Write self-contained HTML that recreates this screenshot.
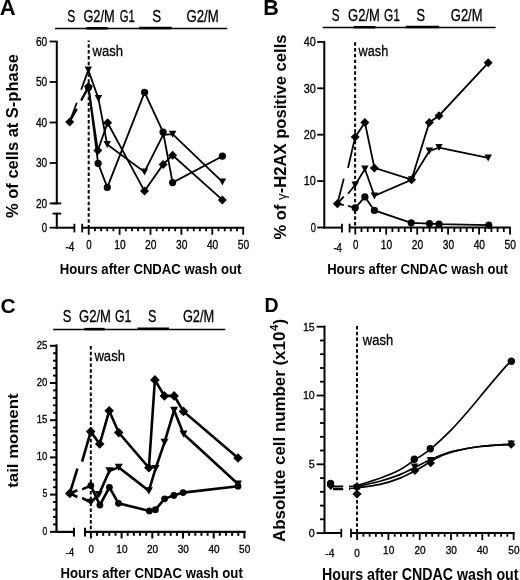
<!DOCTYPE html>
<html><head><meta charset="utf-8"><style>
html,body{margin:0;padding:0;background:#fff;}
svg{display:block;font-family:"Liberation Sans",sans-serif;will-change:transform;}
text[font-weight="normal"]{stroke:#000;stroke-width:0.3px;}
</style></head><body>
<svg width="520" height="580" viewBox="0 0 520 580">
<defs>
<clipPath id="clipA"><path d="M0,0H77V300H0Z M81,0H260V300H81Z"/></clipPath>
<clipPath id="clipB"><path d="M260,0H343.8V300H260Z M348,0H520V300H348Z"/></clipPath>
<clipPath id="clipC"><path d="M0,290H77.3V580H0Z M81.8,290H260V580H81.8Z"/></clipPath>
<clipPath id="clipD"><path d="M260,290H343.2V580H260Z M349,290H520V580H349Z"/></clipPath>
</defs>
<rect width="520" height="580" fill="#fff"/>
<text x="-0.2" y="14.6" font-size="22" font-weight="bold" text-anchor="start" >A</text>
<line x1="55.0" y1="28.6" x2="227.2" y2="28.6" stroke="#000" stroke-width="1.5" />
<line x1="86.5" y1="28.3" x2="107.7" y2="28.3" stroke="#000" stroke-width="2.5" />
<line x1="139.1" y1="28.0" x2="171.8" y2="28.0" stroke="#000" stroke-width="2.5" />
<text x="67.3" y="21.8" font-size="16" font-weight="normal" text-anchor="start" textLength="8" lengthAdjust="spacingAndGlyphs" >S</text>
<text x="83.4" y="21.8" font-size="16" font-weight="normal" text-anchor="start" textLength="31.3" lengthAdjust="spacingAndGlyphs" >G2/M</text>
<text x="119.8" y="21.8" font-size="16" font-weight="normal" text-anchor="start" textLength="15.1" lengthAdjust="spacingAndGlyphs" >G1</text>
<text x="152.3" y="21.8" font-size="16" font-weight="normal" text-anchor="start" textLength="8.9" lengthAdjust="spacingAndGlyphs" >S</text>
<text x="186.5" y="21.8" font-size="16" font-weight="normal" text-anchor="start" textLength="32.2" lengthAdjust="spacingAndGlyphs" >G2/M</text>
<line x1="56.8" y1="41.0" x2="56.8" y2="204.3" stroke="#000" stroke-width="2" />
<line x1="56.8" y1="212.8" x2="56.8" y2="228.6" stroke="#000" stroke-width="2" />
<line x1="52.5" y1="213.6" x2="61.3" y2="213.6" stroke="#000" stroke-width="1.8" />
<line x1="52.5" y1="203.4" x2="61.3" y2="203.4" stroke="#000" stroke-width="1.8" />
<line x1="49.6" y1="41.5" x2="57.5" y2="41.5" stroke="#000" stroke-width="1.8" />
<text x="47.2" y="45.7" font-size="12" font-weight="normal" text-anchor="end" textLength="11.3" lengthAdjust="spacingAndGlyphs" >60</text>
<line x1="49.6" y1="82.0" x2="57.5" y2="82.0" stroke="#000" stroke-width="1.8" />
<text x="47.2" y="86.2" font-size="12" font-weight="normal" text-anchor="end" textLength="11.3" lengthAdjust="spacingAndGlyphs" >50</text>
<line x1="49.6" y1="122.5" x2="57.5" y2="122.5" stroke="#000" stroke-width="1.8" />
<text x="47.2" y="126.7" font-size="12" font-weight="normal" text-anchor="end" textLength="11.3" lengthAdjust="spacingAndGlyphs" >40</text>
<line x1="49.6" y1="163.0" x2="57.5" y2="163.0" stroke="#000" stroke-width="1.8" />
<text x="47.2" y="167.2" font-size="12" font-weight="normal" text-anchor="end" textLength="11.3" lengthAdjust="spacingAndGlyphs" >30</text>
<line x1="49.6" y1="203.4" x2="57.0" y2="203.4" stroke="#000" stroke-width="1.8" />
<text x="47.2" y="207.6" font-size="12" font-weight="normal" text-anchor="end" textLength="11.3" lengthAdjust="spacingAndGlyphs" >20</text>
<line x1="49.6" y1="227.7" x2="57.0" y2="227.7" stroke="#000" stroke-width="1.8" />
<text x="47.2" y="231.89999999999998" font-size="12" font-weight="normal" text-anchor="end" textLength="5.4" lengthAdjust="spacingAndGlyphs" >0</text>
<line x1="55.8" y1="227.7" x2="74.4" y2="227.7" stroke="#000" stroke-width="2" />
<line x1="74.4" y1="223.8" x2="74.4" y2="232.4" stroke="#000" stroke-width="1.8" />
<line x1="82.2" y1="227.7" x2="244.2" y2="227.7" stroke="#000" stroke-width="2" />
<line x1="82.2" y1="223.8" x2="82.2" y2="232.4" stroke="#000" stroke-width="1.8" />
<line x1="88.7" y1="227.0" x2="88.7" y2="234.8" stroke="#000" stroke-width="1.8" />
<line x1="94.9" y1="227.0" x2="94.9" y2="231.3" stroke="#000" stroke-width="1.8" />
<line x1="101.1" y1="227.0" x2="101.1" y2="231.3" stroke="#000" stroke-width="1.8" />
<line x1="107.2" y1="227.0" x2="107.2" y2="231.3" stroke="#000" stroke-width="1.8" />
<line x1="113.4" y1="227.0" x2="113.4" y2="231.3" stroke="#000" stroke-width="1.8" />
<line x1="119.6" y1="227.0" x2="119.6" y2="234.8" stroke="#000" stroke-width="1.8" />
<line x1="125.8" y1="227.0" x2="125.8" y2="231.3" stroke="#000" stroke-width="1.8" />
<line x1="132.0" y1="227.0" x2="132.0" y2="231.3" stroke="#000" stroke-width="1.8" />
<line x1="138.1" y1="227.0" x2="138.1" y2="231.3" stroke="#000" stroke-width="1.8" />
<line x1="144.3" y1="227.0" x2="144.3" y2="231.3" stroke="#000" stroke-width="1.8" />
<line x1="150.5" y1="227.0" x2="150.5" y2="234.8" stroke="#000" stroke-width="1.8" />
<line x1="156.7" y1="227.0" x2="156.7" y2="231.3" stroke="#000" stroke-width="1.8" />
<line x1="162.9" y1="227.0" x2="162.9" y2="231.3" stroke="#000" stroke-width="1.8" />
<line x1="169.0" y1="227.0" x2="169.0" y2="231.3" stroke="#000" stroke-width="1.8" />
<line x1="175.2" y1="227.0" x2="175.2" y2="231.3" stroke="#000" stroke-width="1.8" />
<line x1="181.4" y1="227.0" x2="181.4" y2="234.8" stroke="#000" stroke-width="1.8" />
<line x1="187.6" y1="227.0" x2="187.6" y2="231.3" stroke="#000" stroke-width="1.8" />
<line x1="193.8" y1="227.0" x2="193.8" y2="231.3" stroke="#000" stroke-width="1.8" />
<line x1="199.9" y1="227.0" x2="199.9" y2="231.3" stroke="#000" stroke-width="1.8" />
<line x1="206.1" y1="227.0" x2="206.1" y2="231.3" stroke="#000" stroke-width="1.8" />
<line x1="212.3" y1="227.0" x2="212.3" y2="234.8" stroke="#000" stroke-width="1.8" />
<line x1="218.5" y1="227.0" x2="218.5" y2="231.3" stroke="#000" stroke-width="1.8" />
<line x1="224.7" y1="227.0" x2="224.7" y2="231.3" stroke="#000" stroke-width="1.8" />
<line x1="230.8" y1="227.0" x2="230.8" y2="231.3" stroke="#000" stroke-width="1.8" />
<line x1="237.0" y1="227.0" x2="237.0" y2="231.3" stroke="#000" stroke-width="1.8" />
<line x1="243.2" y1="227.0" x2="243.2" y2="234.8" stroke="#000" stroke-width="1.8" />
<text x="89.0" y="249.2" font-size="12" font-weight="normal" text-anchor="middle" textLength="5.4" lengthAdjust="spacingAndGlyphs" >0</text>
<text x="119.89999999999999" y="249.2" font-size="12" font-weight="normal" text-anchor="middle" textLength="11.4" lengthAdjust="spacingAndGlyphs" >10</text>
<text x="150.8" y="249.2" font-size="12" font-weight="normal" text-anchor="middle" textLength="11.4" lengthAdjust="spacingAndGlyphs" >20</text>
<text x="181.7" y="249.2" font-size="12" font-weight="normal" text-anchor="middle" textLength="11.4" lengthAdjust="spacingAndGlyphs" >30</text>
<text x="212.60000000000002" y="249.2" font-size="12" font-weight="normal" text-anchor="middle" textLength="11.4" lengthAdjust="spacingAndGlyphs" >40</text>
<text x="243.5" y="249.2" font-size="12" font-weight="normal" text-anchor="middle" textLength="11.4" lengthAdjust="spacingAndGlyphs" >50</text>
<text x="69.9" y="250.8" font-size="12" font-weight="normal" text-anchor="middle" textLength="9" lengthAdjust="spacingAndGlyphs" >-4</text>
<text x="59.8" y="273.8" font-size="15" font-weight="bold" text-anchor="start" textLength="181.5" lengthAdjust="spacingAndGlyphs" >Hours after CNDAC wash out</text>
<text transform="translate(17.8,218) rotate(-90) scale(1,1.0)" font-size="16.5" font-weight="bold" textLength="164" lengthAdjust="spacingAndGlyphs">% of cells at S-phase</text>
<line x1="88.7" y1="40.5" x2="88.7" y2="228.0" stroke="#000" stroke-width="2" stroke-dasharray="3.5 2.33" stroke-dashoffset="2.1"/>
<text x="92.5" y="55.6" font-size="15.5" font-weight="normal" text-anchor="start" textLength="30.4" lengthAdjust="spacingAndGlyphs" >wash</text>
<line x1="69.6" y1="121.9" x2="76.8" y2="109.2" stroke="#000" stroke-width="1.8" stroke-linecap="butt"/>
<line x1="81.2" y1="100.8" x2="88.5" y2="87.6" stroke="#000" stroke-width="1.8" stroke-linecap="butt"/>
<line x1="69.6" y1="121.9" x2="76.8" y2="102.8" stroke="#000" stroke-width="1.8" stroke-linecap="butt"/>
<line x1="81.2" y1="89.8" x2="88.3" y2="70.1" stroke="#000" stroke-width="1.8" stroke-linecap="butt"/>
<line x1="69.6" y1="121.9" x2="76.8" y2="108.8" stroke="#000" stroke-width="1.8" stroke-linecap="butt"/>
<line x1="81.2" y1="100.1" x2="88.4" y2="86.5" stroke="#000" stroke-width="1.8" stroke-linecap="butt"/>
<polyline points="88.5,87.6 98.1,163.3 107.3,187.4 144.6,92.3 163.1,132.1 172.6,182.6 222.4,156.2" fill="none" stroke="#000" stroke-width="1.8" stroke-linejoin="miter" />
<polyline points="88.3,70.1 98.4,98.4 107.2,144.5 144.5,172.0 163.1,134.8 172.6,134.2 222.4,181.9" fill="none" stroke="#000" stroke-width="1.8" stroke-linejoin="miter" />
<polyline points="88.4,86.5 97.8,150.5 107.6,122.8 144.5,191.1 163.1,164.4 172.6,155.3 222.4,199.9" fill="none" stroke="#000" stroke-width="1.8" stroke-linejoin="miter" />
<circle cx="88.5" cy="87.6" r="3.6"/>
<circle cx="98.1" cy="163.3" r="3.6"/>
<circle cx="107.3" cy="187.4" r="3.6"/>
<circle cx="144.6" cy="92.3" r="3.6"/>
<circle cx="163.1" cy="132.1" r="3.6"/>
<circle cx="172.6" cy="182.6" r="3.6"/>
<circle cx="222.4" cy="156.2" r="3.6"/>
<path d="M84.6,66.6H92.0L88.3,73.6Z"/>
<path d="M94.7,94.9H102.1L98.4,101.9Z"/>
<path d="M103.5,141.0H110.9L107.2,148.0Z"/>
<path d="M140.8,168.5H148.2L144.5,175.5Z"/>
<path d="M159.4,131.3H166.8L163.1,138.3Z"/>
<path d="M168.9,130.7H176.3L172.6,137.7Z"/>
<path d="M218.7,178.4H226.1L222.4,185.4Z"/>
<path d="M88.4,82.0L92.9,86.5L88.4,91.0L83.9,86.5Z"/>
<path d="M97.8,146.0L102.3,150.5L97.8,155.0L93.3,150.5Z"/>
<path d="M107.6,118.3L112.1,122.8L107.6,127.3L103.1,122.8Z"/>
<path d="M144.5,186.6L149.0,191.1L144.5,195.6L140.0,191.1Z"/>
<path d="M163.1,159.9L167.6,164.4L163.1,168.9L158.6,164.4Z"/>
<path d="M172.6,150.8L177.1,155.3L172.6,159.8L168.1,155.3Z"/>
<path d="M222.4,195.4L226.9,199.9L222.4,204.4L217.9,199.9Z"/>
<path d="M69.6,117.4L74.1,121.9L69.6,126.4L65.1,121.9Z"/>
<text x="263.3" y="14.8" font-size="21.5" font-weight="bold" text-anchor="start" >B</text>
<line x1="322.7" y1="27.6" x2="495.6" y2="27.6" stroke="#000" stroke-width="1.5" />
<line x1="353.6" y1="27.2" x2="375.5" y2="27.2" stroke="#000" stroke-width="2.5" />
<line x1="405.8" y1="27.1" x2="439.2" y2="27.1" stroke="#000" stroke-width="2.5" />
<text x="331.8" y="20.6" font-size="16" font-weight="normal" text-anchor="start" textLength="7.8" lengthAdjust="spacingAndGlyphs" >S</text>
<text x="348.1" y="20.6" font-size="16" font-weight="normal" text-anchor="start" textLength="31.7" lengthAdjust="spacingAndGlyphs" >G2/M</text>
<text x="384.0" y="20.6" font-size="16" font-weight="normal" text-anchor="start" textLength="15.9" lengthAdjust="spacingAndGlyphs" >G1</text>
<text x="416.5" y="20.6" font-size="16" font-weight="normal" text-anchor="start" textLength="8.5" lengthAdjust="spacingAndGlyphs" >S</text>
<text x="450.8" y="20.6" font-size="16" font-weight="normal" text-anchor="start" textLength="31.7" lengthAdjust="spacingAndGlyphs" >G2/M</text>
<line x1="324.3" y1="41.7" x2="324.3" y2="228.5" stroke="#000" stroke-width="2" />
<line x1="317.2" y1="41.9" x2="325.0" y2="41.9" stroke="#000" stroke-width="1.8" />
<text x="315.9" y="46.10000000000001" font-size="12" font-weight="normal" text-anchor="end" textLength="12.1" lengthAdjust="spacingAndGlyphs" >40</text>
<line x1="317.2" y1="88.3" x2="325.0" y2="88.3" stroke="#000" stroke-width="1.8" />
<text x="315.9" y="92.50000000000001" font-size="12" font-weight="normal" text-anchor="end" textLength="12.1" lengthAdjust="spacingAndGlyphs" >30</text>
<line x1="317.2" y1="134.7" x2="325.0" y2="134.7" stroke="#000" stroke-width="1.8" />
<text x="315.9" y="138.89999999999998" font-size="12" font-weight="normal" text-anchor="end" textLength="12.1" lengthAdjust="spacingAndGlyphs" >20</text>
<line x1="317.2" y1="181.1" x2="325.0" y2="181.1" stroke="#000" stroke-width="1.8" />
<text x="315.9" y="185.29999999999998" font-size="12" font-weight="normal" text-anchor="end" textLength="12.1" lengthAdjust="spacingAndGlyphs" >10</text>
<line x1="317.2" y1="227.5" x2="325.0" y2="227.5" stroke="#000" stroke-width="1.8" />
<text x="315.9" y="231.7" font-size="12" font-weight="normal" text-anchor="end" textLength="5.2" lengthAdjust="spacingAndGlyphs" >0</text>
<line x1="323.3" y1="227.6" x2="342.0" y2="227.6" stroke="#000" stroke-width="2" />
<line x1="342.0" y1="223.7" x2="342.0" y2="232.5" stroke="#000" stroke-width="1.8" />
<line x1="349.6" y1="227.6" x2="510.6" y2="227.6" stroke="#000" stroke-width="2" />
<line x1="349.6" y1="223.7" x2="349.6" y2="232.5" stroke="#000" stroke-width="1.8" />
<line x1="355.3" y1="227.0" x2="355.3" y2="234.6" stroke="#000" stroke-width="1.8" />
<line x1="361.5" y1="227.0" x2="361.5" y2="232.0" stroke="#000" stroke-width="1.8" />
<line x1="367.7" y1="227.0" x2="367.7" y2="232.0" stroke="#000" stroke-width="1.8" />
<line x1="373.9" y1="227.0" x2="373.9" y2="232.0" stroke="#000" stroke-width="1.8" />
<line x1="380.1" y1="227.0" x2="380.1" y2="232.0" stroke="#000" stroke-width="1.8" />
<line x1="386.2" y1="227.0" x2="386.2" y2="234.6" stroke="#000" stroke-width="1.8" />
<line x1="392.4" y1="227.0" x2="392.4" y2="232.0" stroke="#000" stroke-width="1.8" />
<line x1="398.6" y1="227.0" x2="398.6" y2="232.0" stroke="#000" stroke-width="1.8" />
<line x1="404.8" y1="227.0" x2="404.8" y2="232.0" stroke="#000" stroke-width="1.8" />
<line x1="411.0" y1="227.0" x2="411.0" y2="232.0" stroke="#000" stroke-width="1.8" />
<line x1="417.2" y1="227.0" x2="417.2" y2="234.6" stroke="#000" stroke-width="1.8" />
<line x1="423.4" y1="227.0" x2="423.4" y2="232.0" stroke="#000" stroke-width="1.8" />
<line x1="429.6" y1="227.0" x2="429.6" y2="232.0" stroke="#000" stroke-width="1.8" />
<line x1="435.7" y1="227.0" x2="435.7" y2="232.0" stroke="#000" stroke-width="1.8" />
<line x1="441.9" y1="227.0" x2="441.9" y2="232.0" stroke="#000" stroke-width="1.8" />
<line x1="448.1" y1="227.0" x2="448.1" y2="234.6" stroke="#000" stroke-width="1.8" />
<line x1="454.3" y1="227.0" x2="454.3" y2="232.0" stroke="#000" stroke-width="1.8" />
<line x1="460.5" y1="227.0" x2="460.5" y2="232.0" stroke="#000" stroke-width="1.8" />
<line x1="466.7" y1="227.0" x2="466.7" y2="232.0" stroke="#000" stroke-width="1.8" />
<line x1="472.9" y1="227.0" x2="472.9" y2="232.0" stroke="#000" stroke-width="1.8" />
<line x1="479.1" y1="227.0" x2="479.1" y2="234.6" stroke="#000" stroke-width="1.8" />
<line x1="485.2" y1="227.0" x2="485.2" y2="232.0" stroke="#000" stroke-width="1.8" />
<line x1="491.4" y1="227.0" x2="491.4" y2="232.0" stroke="#000" stroke-width="1.8" />
<line x1="497.6" y1="227.0" x2="497.6" y2="232.0" stroke="#000" stroke-width="1.8" />
<line x1="503.8" y1="227.0" x2="503.8" y2="232.0" stroke="#000" stroke-width="1.8" />
<line x1="510.0" y1="227.0" x2="510.0" y2="234.6" stroke="#000" stroke-width="1.8" />
<text x="355.6" y="249.2" font-size="12" font-weight="normal" text-anchor="middle" textLength="5.4" lengthAdjust="spacingAndGlyphs" >0</text>
<text x="386.54" y="249.2" font-size="12" font-weight="normal" text-anchor="middle" textLength="11.4" lengthAdjust="spacingAndGlyphs" >10</text>
<text x="417.48" y="249.2" font-size="12" font-weight="normal" text-anchor="middle" textLength="11.4" lengthAdjust="spacingAndGlyphs" >20</text>
<text x="448.42" y="249.2" font-size="12" font-weight="normal" text-anchor="middle" textLength="11.4" lengthAdjust="spacingAndGlyphs" >30</text>
<text x="479.36" y="249.2" font-size="12" font-weight="normal" text-anchor="middle" textLength="11.4" lengthAdjust="spacingAndGlyphs" >40</text>
<text x="510.3" y="249.2" font-size="12" font-weight="normal" text-anchor="middle" textLength="11.4" lengthAdjust="spacingAndGlyphs" >50</text>
<text x="337.7" y="252.0" font-size="12" font-weight="normal" text-anchor="middle" textLength="8.6" lengthAdjust="spacingAndGlyphs" >-4</text>
<text x="327.2" y="274.0" font-size="15" font-weight="bold" text-anchor="start" textLength="180.7" lengthAdjust="spacingAndGlyphs" >Hours after CNDAC wash out</text>
<text transform="translate(285.6,239.6) rotate(-90)" font-size="16.4" font-weight="bold" textLength="205.2" lengthAdjust="spacingAndGlyphs">% of <tspan font-weight="normal" font-size="13">γ</tspan>-H2AX positive cells</text>
<line x1="355.1" y1="42.3" x2="355.1" y2="228.0" stroke="#000" stroke-width="2" stroke-dasharray="3.4 2.4"/>
<text x="358.6" y="56.3" font-size="15.5" font-weight="normal" text-anchor="start" textLength="29.7" lengthAdjust="spacingAndGlyphs" >wash</text>
<line x1="337.4" y1="203.7" x2="343.8" y2="205.2" stroke="#000" stroke-width="1.8" stroke-linecap="butt"/>
<line x1="348.0" y1="205.9" x2="355.2" y2="207.8" stroke="#000" stroke-width="1.8" stroke-linecap="butt"/>
<line x1="337.4" y1="203.7" x2="343.8" y2="196.7" stroke="#000" stroke-width="1.8" stroke-linecap="butt"/>
<line x1="348.0" y1="193.7" x2="355.2" y2="185.0" stroke="#000" stroke-width="1.8" stroke-linecap="butt"/>
<line x1="337.4" y1="203.7" x2="343.8" y2="178.6" stroke="#000" stroke-width="1.8" stroke-linecap="butt"/>
<line x1="348.0" y1="167.9" x2="355.2" y2="136.9" stroke="#000" stroke-width="1.8" stroke-linecap="butt"/>
<polyline points="355.2,207.8 364.9,196.9 374.4,210.4 411.2,222.8 429.5,223.6 439.0,224.2 488.8,225.1" fill="none" stroke="#000" stroke-width="1.8" stroke-linejoin="miter" />
<polyline points="355.2,185.0 364.9,169.0 374.4,195.9 411.5,179.7 429.4,150.9 439.0,147.6 488.2,157.9" fill="none" stroke="#000" stroke-width="1.8" stroke-linejoin="miter" />
<polyline points="355.2,136.9 364.9,122.6 374.4,167.9 411.5,179.7 429.3,122.4 439.0,115.7 488.2,62.8" fill="none" stroke="#000" stroke-width="1.8" stroke-linejoin="miter" />
<circle cx="355.2" cy="207.8" r="3.6"/>
<circle cx="364.9" cy="196.9" r="3.6"/>
<circle cx="374.4" cy="210.4" r="3.6"/>
<circle cx="411.2" cy="222.8" r="3.6"/>
<circle cx="429.5" cy="223.6" r="3.6"/>
<circle cx="439.0" cy="224.2" r="3.6"/>
<circle cx="488.8" cy="225.1" r="3.6"/>
<path d="M351.5,181.5H358.9L355.2,188.5Z"/>
<path d="M361.2,165.5H368.6L364.9,172.5Z"/>
<path d="M370.7,192.4H378.1L374.4,199.4Z"/>
<path d="M407.8,176.2H415.2L411.5,183.2Z"/>
<path d="M425.7,147.4H433.1L429.4,154.4Z"/>
<path d="M435.3,144.1H442.7L439.0,151.1Z"/>
<path d="M484.5,154.4H491.9L488.2,161.4Z"/>
<path d="M355.2,132.4L359.7,136.9L355.2,141.4L350.7,136.9Z"/>
<path d="M364.9,118.1L369.4,122.6L364.9,127.1L360.4,122.6Z"/>
<path d="M374.4,163.4L378.9,167.9L374.4,172.4L369.9,167.9Z"/>
<path d="M411.5,175.2L416.0,179.7L411.5,184.2L407.0,179.7Z"/>
<path d="M429.3,117.9L433.8,122.4L429.3,126.9L424.8,122.4Z"/>
<path d="M439.0,111.2L443.5,115.7L439.0,120.2L434.5,115.7Z"/>
<path d="M488.2,58.3L492.7,62.8L488.2,67.3L483.7,62.8Z"/>
<path d="M337.4,199.2L341.9,203.7L337.4,208.2L332.9,203.7Z"/>
<text x="0.4" y="313.3" font-size="21" font-weight="bold" text-anchor="start" >C</text>
<line x1="53.1" y1="329.5" x2="225.2" y2="329.5" stroke="#000" stroke-width="1.5" />
<line x1="84.4" y1="329.1" x2="104.8" y2="329.1" stroke="#000" stroke-width="2.5" />
<line x1="137.4" y1="328.8" x2="169.1" y2="328.8" stroke="#000" stroke-width="2.5" />
<text x="62.8" y="322.2" font-size="16" font-weight="normal" text-anchor="start" textLength="8.5" lengthAdjust="spacingAndGlyphs" >S</text>
<text x="79.1" y="322.2" font-size="16" font-weight="normal" text-anchor="start" textLength="31.8" lengthAdjust="spacingAndGlyphs" >G2/M</text>
<text x="115.1" y="322.2" font-size="16" font-weight="normal" text-anchor="start" textLength="16.3" lengthAdjust="spacingAndGlyphs" >G1</text>
<text x="148.0" y="322.2" font-size="16" font-weight="normal" text-anchor="start" textLength="8.4" lengthAdjust="spacingAndGlyphs" >S</text>
<text x="182.9" y="322.2" font-size="16" font-weight="normal" text-anchor="start" textLength="31.3" lengthAdjust="spacingAndGlyphs" >G2/M</text>
<line x1="56.5" y1="344.4" x2="56.5" y2="532.8" stroke="#000" stroke-width="2.2" />
<line x1="50.0" y1="531.8" x2="57.0" y2="531.8" stroke="#000" stroke-width="2" />
<line x1="53.1" y1="524.4" x2="57.0" y2="524.4" stroke="#000" stroke-width="2" />
<line x1="53.1" y1="516.9" x2="57.0" y2="516.9" stroke="#000" stroke-width="2" />
<line x1="53.1" y1="509.5" x2="57.0" y2="509.5" stroke="#000" stroke-width="2" />
<line x1="53.1" y1="502.0" x2="57.0" y2="502.0" stroke="#000" stroke-width="2" />
<line x1="50.0" y1="494.6" x2="57.0" y2="494.6" stroke="#000" stroke-width="2" />
<line x1="53.1" y1="487.2" x2="57.0" y2="487.2" stroke="#000" stroke-width="2" />
<line x1="53.1" y1="479.7" x2="57.0" y2="479.7" stroke="#000" stroke-width="2" />
<line x1="53.1" y1="472.3" x2="57.0" y2="472.3" stroke="#000" stroke-width="2" />
<line x1="53.1" y1="464.8" x2="57.0" y2="464.8" stroke="#000" stroke-width="2" />
<line x1="50.0" y1="457.4" x2="57.0" y2="457.4" stroke="#000" stroke-width="2" />
<line x1="53.1" y1="450.0" x2="57.0" y2="450.0" stroke="#000" stroke-width="2" />
<line x1="53.1" y1="442.5" x2="57.0" y2="442.5" stroke="#000" stroke-width="2" />
<line x1="53.1" y1="435.1" x2="57.0" y2="435.1" stroke="#000" stroke-width="2" />
<line x1="53.1" y1="427.6" x2="57.0" y2="427.6" stroke="#000" stroke-width="2" />
<line x1="50.0" y1="420.2" x2="57.0" y2="420.2" stroke="#000" stroke-width="2" />
<line x1="53.1" y1="412.8" x2="57.0" y2="412.8" stroke="#000" stroke-width="2" />
<line x1="53.1" y1="405.3" x2="57.0" y2="405.3" stroke="#000" stroke-width="2" />
<line x1="53.1" y1="397.9" x2="57.0" y2="397.9" stroke="#000" stroke-width="2" />
<line x1="53.1" y1="390.4" x2="57.0" y2="390.4" stroke="#000" stroke-width="2" />
<line x1="50.0" y1="383.0" x2="57.0" y2="383.0" stroke="#000" stroke-width="2" />
<line x1="53.1" y1="375.6" x2="57.0" y2="375.6" stroke="#000" stroke-width="2" />
<line x1="53.1" y1="368.1" x2="57.0" y2="368.1" stroke="#000" stroke-width="2" />
<line x1="53.1" y1="360.7" x2="57.0" y2="360.7" stroke="#000" stroke-width="2" />
<line x1="53.1" y1="353.2" x2="57.0" y2="353.2" stroke="#000" stroke-width="2" />
<line x1="50.0" y1="345.8" x2="57.0" y2="345.8" stroke="#000" stroke-width="2" />
<text x="47.4" y="348.59999999999997" font-size="10.5" font-weight="normal" text-anchor="end" textLength="10.7" lengthAdjust="spacingAndGlyphs" >25</text>
<text x="47.4" y="385.79999999999995" font-size="10.5" font-weight="normal" text-anchor="end" textLength="10.7" lengthAdjust="spacingAndGlyphs" >20</text>
<text x="47.4" y="422.99999999999994" font-size="10.5" font-weight="normal" text-anchor="end" textLength="10.7" lengthAdjust="spacingAndGlyphs" >15</text>
<text x="47.4" y="460.2" font-size="10.5" font-weight="normal" text-anchor="end" textLength="10.7" lengthAdjust="spacingAndGlyphs" >10</text>
<text x="47.4" y="497.4" font-size="10.5" font-weight="normal" text-anchor="end" textLength="4.8" lengthAdjust="spacingAndGlyphs" >5</text>
<text x="47.4" y="534.5999999999999" font-size="10.5" font-weight="normal" text-anchor="end" textLength="4.8" lengthAdjust="spacingAndGlyphs" >0</text>
<line x1="55.5" y1="531.9" x2="74.0" y2="531.9" stroke="#000" stroke-width="2.2" />
<line x1="74.0" y1="527.8" x2="74.0" y2="536.4" stroke="#000" stroke-width="2" />
<line x1="85.0" y1="531.9" x2="245.5" y2="531.9" stroke="#000" stroke-width="2.2" />
<line x1="85.0" y1="527.8" x2="85.0" y2="536.4" stroke="#000" stroke-width="2" />
<line x1="90.9" y1="531.0" x2="90.9" y2="538.4" stroke="#000" stroke-width="2" />
<line x1="97.0" y1="531.0" x2="97.0" y2="535.8" stroke="#000" stroke-width="2" />
<line x1="103.2" y1="531.0" x2="103.2" y2="535.8" stroke="#000" stroke-width="2" />
<line x1="109.3" y1="531.0" x2="109.3" y2="535.8" stroke="#000" stroke-width="2" />
<line x1="115.5" y1="531.0" x2="115.5" y2="535.8" stroke="#000" stroke-width="2" />
<line x1="121.6" y1="531.0" x2="121.6" y2="538.4" stroke="#000" stroke-width="2" />
<line x1="127.7" y1="531.0" x2="127.7" y2="535.8" stroke="#000" stroke-width="2" />
<line x1="133.9" y1="531.0" x2="133.9" y2="535.8" stroke="#000" stroke-width="2" />
<line x1="140.0" y1="531.0" x2="140.0" y2="535.8" stroke="#000" stroke-width="2" />
<line x1="146.2" y1="531.0" x2="146.2" y2="535.8" stroke="#000" stroke-width="2" />
<line x1="152.3" y1="531.0" x2="152.3" y2="538.4" stroke="#000" stroke-width="2" />
<line x1="158.4" y1="531.0" x2="158.4" y2="535.8" stroke="#000" stroke-width="2" />
<line x1="164.6" y1="531.0" x2="164.6" y2="535.8" stroke="#000" stroke-width="2" />
<line x1="170.7" y1="531.0" x2="170.7" y2="535.8" stroke="#000" stroke-width="2" />
<line x1="176.9" y1="531.0" x2="176.9" y2="535.8" stroke="#000" stroke-width="2" />
<line x1="183.0" y1="531.0" x2="183.0" y2="538.4" stroke="#000" stroke-width="2" />
<line x1="189.1" y1="531.0" x2="189.1" y2="535.8" stroke="#000" stroke-width="2" />
<line x1="195.3" y1="531.0" x2="195.3" y2="535.8" stroke="#000" stroke-width="2" />
<line x1="201.4" y1="531.0" x2="201.4" y2="535.8" stroke="#000" stroke-width="2" />
<line x1="207.6" y1="531.0" x2="207.6" y2="535.8" stroke="#000" stroke-width="2" />
<line x1="213.7" y1="531.0" x2="213.7" y2="538.4" stroke="#000" stroke-width="2" />
<line x1="219.8" y1="531.0" x2="219.8" y2="535.8" stroke="#000" stroke-width="2" />
<line x1="226.0" y1="531.0" x2="226.0" y2="535.8" stroke="#000" stroke-width="2" />
<line x1="232.1" y1="531.0" x2="232.1" y2="535.8" stroke="#000" stroke-width="2" />
<line x1="238.3" y1="531.0" x2="238.3" y2="535.8" stroke="#000" stroke-width="2" />
<line x1="244.4" y1="531.0" x2="244.4" y2="538.4" stroke="#000" stroke-width="2" />
<text x="91.2" y="552.8" font-size="11" font-weight="normal" text-anchor="middle" textLength="5.4" lengthAdjust="spacingAndGlyphs" >0</text>
<text x="121.9" y="552.8" font-size="11" font-weight="normal" text-anchor="middle" textLength="11.2" lengthAdjust="spacingAndGlyphs" >10</text>
<text x="152.60000000000002" y="552.8" font-size="11" font-weight="normal" text-anchor="middle" textLength="11.2" lengthAdjust="spacingAndGlyphs" >20</text>
<text x="183.3" y="552.8" font-size="11" font-weight="normal" text-anchor="middle" textLength="11.2" lengthAdjust="spacingAndGlyphs" >30</text>
<text x="214.0" y="552.8" font-size="11" font-weight="normal" text-anchor="middle" textLength="11.2" lengthAdjust="spacingAndGlyphs" >40</text>
<text x="244.70000000000002" y="552.8" font-size="11" font-weight="normal" text-anchor="middle" textLength="11.2" lengthAdjust="spacingAndGlyphs" >50</text>
<text x="70.0" y="555.9" font-size="11" font-weight="normal" text-anchor="middle" textLength="8.3" lengthAdjust="spacingAndGlyphs" >-4</text>
<text x="60.4" y="577.8" font-size="15" font-weight="bold" text-anchor="start" textLength="182.4" lengthAdjust="spacingAndGlyphs" >Hours after CNDAC wash out</text>
<text transform="translate(17.6,487.8) rotate(-90) scale(1,0.9)" font-size="16.8" font-weight="bold" textLength="94.3" lengthAdjust="spacingAndGlyphs">tail moment</text>
<line x1="90.8" y1="346.0" x2="90.8" y2="532.0" stroke="#000" stroke-width="2" stroke-dasharray="3.5 2.3"/>
<text x="94.4" y="360.8" font-size="15.5" font-weight="normal" text-anchor="start" textLength="30.6" lengthAdjust="spacingAndGlyphs" >wash</text>
<line x1="69.8" y1="493.4" x2="77.4" y2="490.3" stroke="#000" stroke-width="2.6" stroke-linecap="butt"/>
<line x1="82.1" y1="489.4" x2="90.8" y2="485.6" stroke="#000" stroke-width="2.6" stroke-linecap="butt"/>
<line x1="69.8" y1="493.4" x2="77.4" y2="497.0" stroke="#000" stroke-width="2.6" stroke-linecap="butt"/>
<line x1="82.1" y1="498.0" x2="90.8" y2="502.4" stroke="#000" stroke-width="2.6" stroke-linecap="butt"/>
<line x1="69.8" y1="493.4" x2="77.4" y2="468.7" stroke="#000" stroke-width="2.6" stroke-linecap="butt"/>
<line x1="82.1" y1="461.6" x2="90.7" y2="431.6" stroke="#000" stroke-width="2.6" stroke-linecap="butt"/>
<polyline points="90.8,485.6 99.9,505.0 109.4,487.3 118.5,503.3 149.4,510.9 155.4,509.7 164.6,498.8 173.8,495.4 183.1,492.6 238.0,486.2" fill="none" stroke="#000" stroke-width="2.6" stroke-linejoin="miter" />
<polyline points="90.8,502.4 98.8,494.7 109.4,470.8 118.8,467.4 148.9,490.8 155.6,468.5 164.5,442.4 174.1,410.3 183.5,434.0 238.0,484.0" fill="none" stroke="#000" stroke-width="2.6" stroke-linejoin="miter" />
<polyline points="90.7,431.6 99.7,444.0 109.2,410.8 118.7,432.6 148.9,467.8 154.9,379.9 164.4,395.9 174.1,395.9 183.5,411.4 238.0,458.0" fill="none" stroke="#000" stroke-width="2.6" stroke-linejoin="miter" />
<circle cx="90.8" cy="485.6" r="3.4"/>
<circle cx="99.9" cy="505.0" r="3.4"/>
<circle cx="109.4" cy="487.3" r="3.4"/>
<circle cx="118.5" cy="503.3" r="3.4"/>
<circle cx="149.4" cy="510.9" r="3.4"/>
<circle cx="155.4" cy="509.7" r="3.4"/>
<circle cx="164.6" cy="498.8" r="3.4"/>
<circle cx="173.8" cy="495.4" r="3.4"/>
<circle cx="183.1" cy="492.6" r="3.4"/>
<circle cx="238.0" cy="486.2" r="3.4"/>
<path d="M86.8,498.8H94.8L90.8,506.0Z"/>
<path d="M94.8,491.1H102.8L98.8,498.3Z"/>
<path d="M105.4,467.2H113.4L109.4,474.4Z"/>
<path d="M114.8,463.8H122.8L118.8,471.0Z"/>
<path d="M144.9,487.2H152.9L148.9,494.4Z"/>
<path d="M151.6,464.9H159.6L155.6,472.1Z"/>
<path d="M160.5,438.8H168.5L164.5,446.0Z"/>
<path d="M170.1,406.7H178.1L174.1,413.9Z"/>
<path d="M179.5,430.4H187.5L183.5,437.6Z"/>
<path d="M234.0,480.4H242.0L238.0,487.6Z"/>
<path d="M90.7,426.8L95.5,431.6L90.7,436.4L85.9,431.6Z"/>
<path d="M99.7,439.2L104.5,444.0L99.7,448.8L94.9,444.0Z"/>
<path d="M109.2,406.0L114.0,410.8L109.2,415.6L104.4,410.8Z"/>
<path d="M118.7,427.8L123.5,432.6L118.7,437.4L113.9,432.6Z"/>
<path d="M148.9,463.0L153.7,467.8L148.9,472.6L144.1,467.8Z"/>
<path d="M154.9,375.1L159.7,379.9L154.9,384.7L150.1,379.9Z"/>
<path d="M164.4,391.1L169.2,395.9L164.4,400.7L159.6,395.9Z"/>
<path d="M174.1,391.1L178.9,395.9L174.1,400.7L169.3,395.9Z"/>
<path d="M183.5,406.6L188.3,411.4L183.5,416.2L178.7,411.4Z"/>
<path d="M238.0,453.2L242.8,458.0L238.0,462.8L233.2,458.0Z"/>
<path d="M69.8,488.6L74.6,493.4L69.8,498.2L65.0,493.4Z"/>
<text x="264.6" y="311.9" font-size="19.5" font-weight="bold" text-anchor="start" >D</text>
<line x1="324.5" y1="325.7" x2="324.5" y2="534.0" stroke="#000" stroke-width="2" />
<line x1="316.6" y1="533.1" x2="325.0" y2="533.1" stroke="#000" stroke-width="1.8" />
<line x1="320.0" y1="519.3" x2="325.0" y2="519.3" stroke="#000" stroke-width="1.8" />
<line x1="320.0" y1="505.6" x2="325.0" y2="505.6" stroke="#000" stroke-width="1.8" />
<line x1="320.0" y1="491.8" x2="325.0" y2="491.8" stroke="#000" stroke-width="1.8" />
<line x1="320.0" y1="478.1" x2="325.0" y2="478.1" stroke="#000" stroke-width="1.8" />
<line x1="316.6" y1="464.3" x2="325.0" y2="464.3" stroke="#000" stroke-width="1.8" />
<line x1="320.0" y1="450.5" x2="325.0" y2="450.5" stroke="#000" stroke-width="1.8" />
<line x1="320.0" y1="436.8" x2="325.0" y2="436.8" stroke="#000" stroke-width="1.8" />
<line x1="320.0" y1="423.0" x2="325.0" y2="423.0" stroke="#000" stroke-width="1.8" />
<line x1="320.0" y1="409.3" x2="325.0" y2="409.3" stroke="#000" stroke-width="1.8" />
<line x1="316.6" y1="395.5" x2="325.0" y2="395.5" stroke="#000" stroke-width="1.8" />
<line x1="320.0" y1="381.7" x2="325.0" y2="381.7" stroke="#000" stroke-width="1.8" />
<line x1="320.0" y1="368.0" x2="325.0" y2="368.0" stroke="#000" stroke-width="1.8" />
<line x1="320.0" y1="354.2" x2="325.0" y2="354.2" stroke="#000" stroke-width="1.8" />
<line x1="320.0" y1="340.5" x2="325.0" y2="340.5" stroke="#000" stroke-width="1.8" />
<line x1="316.6" y1="326.7" x2="325.0" y2="326.7" stroke="#000" stroke-width="1.8" />
<text x="314.7" y="330.6" font-size="11" font-weight="normal" text-anchor="end" textLength="11.8" lengthAdjust="spacingAndGlyphs" >15</text>
<text x="314.7" y="399.4" font-size="11" font-weight="normal" text-anchor="end" textLength="11.8" lengthAdjust="spacingAndGlyphs" >10</text>
<text x="314.7" y="468.2" font-size="11" font-weight="normal" text-anchor="end" textLength="6.0" lengthAdjust="spacingAndGlyphs" >5</text>
<text x="314.7" y="537.0" font-size="11" font-weight="normal" text-anchor="end" textLength="6.0" lengthAdjust="spacingAndGlyphs" >0</text>
<line x1="323.5" y1="533.0" x2="341.3" y2="533.0" stroke="#000" stroke-width="2" />
<line x1="341.3" y1="528.8" x2="341.3" y2="537.4" stroke="#000" stroke-width="1.8" />
<line x1="351.0" y1="533.0" x2="514.5" y2="533.0" stroke="#000" stroke-width="2" />
<line x1="351.0" y1="528.8" x2="351.0" y2="537.4" stroke="#000" stroke-width="1.8" />
<line x1="357.1" y1="532.0" x2="357.1" y2="540.1" stroke="#000" stroke-width="1.8" />
<line x1="363.4" y1="532.0" x2="363.4" y2="536.7" stroke="#000" stroke-width="1.8" />
<line x1="369.6" y1="532.0" x2="369.6" y2="536.7" stroke="#000" stroke-width="1.8" />
<line x1="375.9" y1="532.0" x2="375.9" y2="536.7" stroke="#000" stroke-width="1.8" />
<line x1="382.1" y1="532.0" x2="382.1" y2="536.7" stroke="#000" stroke-width="1.8" />
<line x1="388.4" y1="532.0" x2="388.4" y2="540.1" stroke="#000" stroke-width="1.8" />
<line x1="394.7" y1="532.0" x2="394.7" y2="536.7" stroke="#000" stroke-width="1.8" />
<line x1="400.9" y1="532.0" x2="400.9" y2="536.7" stroke="#000" stroke-width="1.8" />
<line x1="407.2" y1="532.0" x2="407.2" y2="536.7" stroke="#000" stroke-width="1.8" />
<line x1="413.4" y1="532.0" x2="413.4" y2="536.7" stroke="#000" stroke-width="1.8" />
<line x1="419.7" y1="532.0" x2="419.7" y2="540.1" stroke="#000" stroke-width="1.8" />
<line x1="426.0" y1="532.0" x2="426.0" y2="536.7" stroke="#000" stroke-width="1.8" />
<line x1="432.2" y1="532.0" x2="432.2" y2="536.7" stroke="#000" stroke-width="1.8" />
<line x1="438.5" y1="532.0" x2="438.5" y2="536.7" stroke="#000" stroke-width="1.8" />
<line x1="444.7" y1="532.0" x2="444.7" y2="536.7" stroke="#000" stroke-width="1.8" />
<line x1="451.0" y1="532.0" x2="451.0" y2="540.1" stroke="#000" stroke-width="1.8" />
<line x1="457.3" y1="532.0" x2="457.3" y2="536.7" stroke="#000" stroke-width="1.8" />
<line x1="463.5" y1="532.0" x2="463.5" y2="536.7" stroke="#000" stroke-width="1.8" />
<line x1="469.8" y1="532.0" x2="469.8" y2="536.7" stroke="#000" stroke-width="1.8" />
<line x1="476.0" y1="532.0" x2="476.0" y2="536.7" stroke="#000" stroke-width="1.8" />
<line x1="482.3" y1="532.0" x2="482.3" y2="540.1" stroke="#000" stroke-width="1.8" />
<line x1="488.6" y1="532.0" x2="488.6" y2="536.7" stroke="#000" stroke-width="1.8" />
<line x1="494.8" y1="532.0" x2="494.8" y2="536.7" stroke="#000" stroke-width="1.8" />
<line x1="501.1" y1="532.0" x2="501.1" y2="536.7" stroke="#000" stroke-width="1.8" />
<line x1="507.3" y1="532.0" x2="507.3" y2="536.7" stroke="#000" stroke-width="1.8" />
<line x1="513.6" y1="532.0" x2="513.6" y2="540.1" stroke="#000" stroke-width="1.8" />
<text x="388.70000000000005" y="554.0" font-size="11.5" font-weight="normal" text-anchor="middle" textLength="11.2" lengthAdjust="spacingAndGlyphs" >10</text>
<text x="420.00000000000006" y="554.0" font-size="11.5" font-weight="normal" text-anchor="middle" textLength="11.2" lengthAdjust="spacingAndGlyphs" >20</text>
<text x="451.3" y="554.0" font-size="11.5" font-weight="normal" text-anchor="middle" textLength="11.2" lengthAdjust="spacingAndGlyphs" >30</text>
<text x="482.6" y="554.0" font-size="11.5" font-weight="normal" text-anchor="middle" textLength="11.2" lengthAdjust="spacingAndGlyphs" >40</text>
<text x="513.9" y="554.0" font-size="11.5" font-weight="normal" text-anchor="middle" textLength="11.2" lengthAdjust="spacingAndGlyphs" >50</text>
<text x="357.1" y="556.7" font-size="11.5" font-weight="normal" text-anchor="middle" textLength="5.6" lengthAdjust="spacingAndGlyphs" >0</text>
<text x="329.8" y="556.8" font-size="11.5" font-weight="normal" text-anchor="middle" textLength="9.2" lengthAdjust="spacingAndGlyphs" >-4</text>
<text x="322.0" y="579.6" font-size="16.5" font-weight="bold" text-anchor="start" textLength="196.5" lengthAdjust="spacingAndGlyphs" >Hours after CNDAC wash out</text>
<text transform="translate(285.2,541.9) rotate(-90) scale(1,0.95)" font-size="16.9" font-weight="bold">Absolute cell number (x10<tspan font-size="11.5" dy="-7.5" dx="0.6">4</tspan><tspan dy="7.5" dx="0.3">)</tspan></text>
<line x1="357.0" y1="326.0" x2="357.0" y2="533.0" stroke="#000" stroke-width="2" stroke-dasharray="3.5 2.3"/>
<text x="362.8" y="345.4" font-size="15.5" font-weight="normal" text-anchor="start" textLength="30.3" lengthAdjust="spacingAndGlyphs" >wash</text>
<path d="M357.0,485.4 C360.8,484.2 372.8,480.8 380.0,478.2 C387.2,475.6 394.3,472.8 400.0,469.8 C405.7,466.8 409.3,463.6 414.3,460.2 C419.3,456.8 424.4,454.0 430.2,449.3 C436.0,444.6 442.7,438.6 449.0,432.2 C455.3,425.8 461.7,418.5 468.0,411.2 C474.3,403.9 480.7,395.9 487.0,388.4 C493.3,380.9 501.8,370.9 505.8,366.4 C509.9,361.9 510.4,362.1 511.3,361.3" fill="none" stroke="#000" stroke-width="1.7"/>
<path d="M357.0,486.5 C360.8,485.6 372.8,483.2 380.0,481.2 C387.2,479.2 394.2,476.9 400.0,474.6 C405.8,472.3 409.5,470.1 414.6,467.6 C419.7,465.1 426.0,461.7 430.6,459.6 C435.2,457.5 437.9,456.2 442.0,454.8 C446.1,453.4 448.7,452.3 455.0,450.9 C461.3,449.5 470.6,447.6 480.0,446.5 C489.4,445.4 506.1,444.6 511.3,444.2" fill="none" stroke="#000" stroke-width="1.7"/>
<path d="M357.0,487.8 C360.8,487.2 372.8,486.0 380.0,484.4 C387.2,482.8 394.2,480.4 400.0,478.1 C405.8,475.8 409.9,473.6 415.0,470.8 C420.1,468.1 426.1,464.2 430.6,461.6 C435.1,459.0 437.9,457.1 442.0,455.4 C446.1,453.6 448.7,452.6 455.0,451.1 C461.3,449.6 470.6,447.6 480.0,446.5 C489.4,445.4 506.1,444.6 511.3,444.2" fill="none" stroke="#000" stroke-width="1.7"/>
<g clip-path="url(#clipD)">
<line x1="333.0" y1="486.3" x2="357.0" y2="486.3" stroke="#000" stroke-width="1.6" />
<line x1="333.0" y1="488.3" x2="357.0" y2="488.3" stroke="#000" stroke-width="1.6" />
<line x1="333.0" y1="489.6" x2="350.0" y2="489.6" stroke="#000" stroke-width="1.4" />
</g>
<circle cx="330.6" cy="483.4" r="3.6"/>
<path d="M330.8,481.6L335.0,485.8L330.8,490.0L326.6,485.8Z"/>
<path d="M327.0,482.5H334.0L330.5,488.5Z"/>
<circle cx="357.0" cy="486.8" r="3.6"/>
<path d="M353.2,484.2H360.8L357.0,490.8Z"/>
<path d="M357.0,489.4L361.6,494.0L357.0,498.6L352.4,494.0Z"/>
<circle cx="414.3" cy="459.3" r="3.7"/>
<path d="M410.8,463.6H418.2L414.5,470.4Z"/>
<path d="M415.0,466.3L419.3,470.6L415.0,474.9L410.7,470.6Z"/>
<circle cx="430.3" cy="448.8" r="3.7"/>
<path d="M426.7,457.0H434.1L430.4,463.8Z"/>
<path d="M430.7,458.7L435.0,463.0L430.7,467.3L426.4,463.0Z"/>
<circle cx="511.3" cy="361.3" r="3.7"/>
<path d="M507.5,440.4H514.9L511.2,447.2Z"/>
<path d="M511.2,440.1L515.5,444.4L511.2,448.7L506.9,444.4Z"/>
</svg>
</body></html>
